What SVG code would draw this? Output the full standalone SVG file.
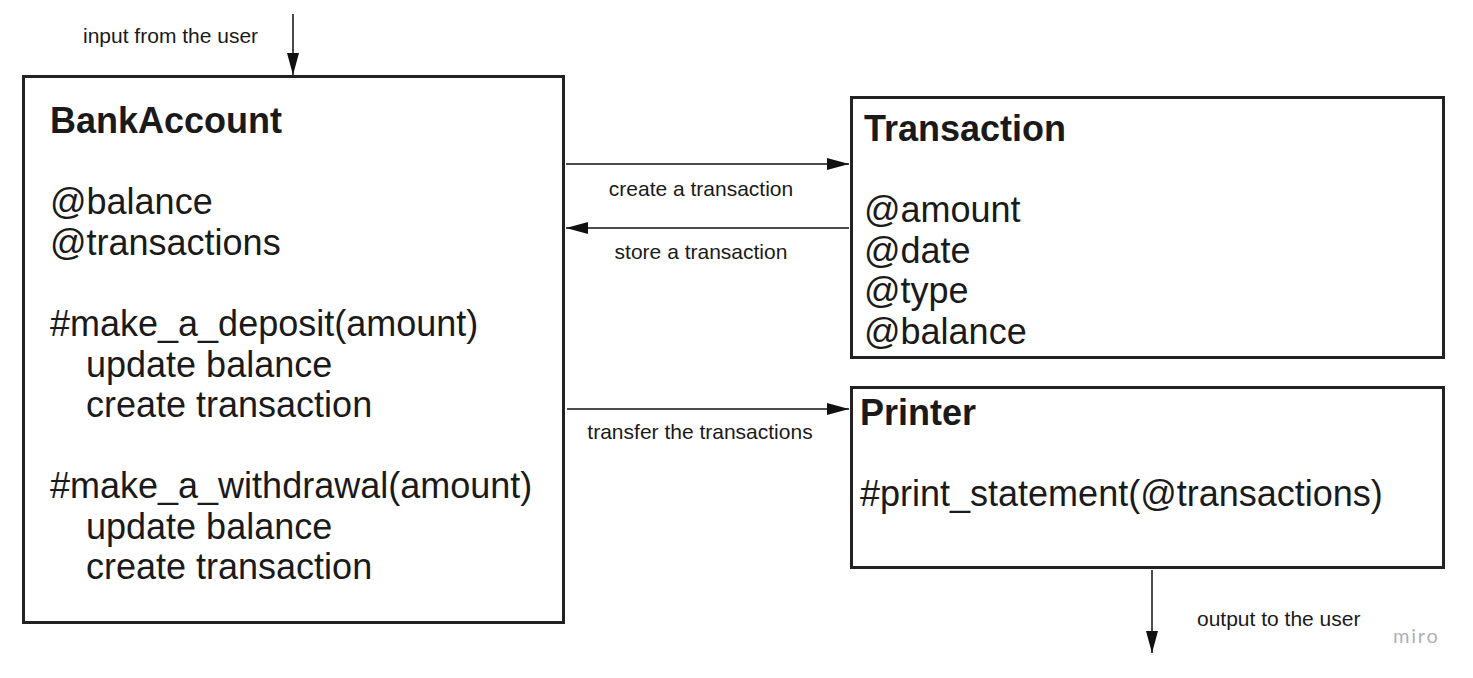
<svg xmlns="http://www.w3.org/2000/svg" width="1473" height="678" viewBox="0 0 1473 678">
<style>
.box{fill:#fff;stroke:#222;stroke-width:3}
.t{font-family:"Liberation Sans",Arial,sans-serif;font-size:36px;fill:#1a1a1a}
.b{font-weight:bold}
.lbl{font-family:"Liberation Sans",Arial,sans-serif;font-size:21px;fill:#1a1a1a}
.c{stroke:#111;stroke-width:1.5;fill:none}
</style>
<defs>
<marker id="ah" markerUnits="userSpaceOnUse" markerWidth="23" markerHeight="12" refX="22" refY="6" orient="auto">
<path d="M0,0 L22,6 L0,12 Z" fill="#111"/>
</marker>
</defs>
<rect width="1473" height="678" fill="#fff"/>
<g id="bankaccount">
<rect class="box" x="23.5" y="76.5" width="540" height="546"/>
<text class="t b" x="50" y="133">BankAccount</text>
<text class="t" x="50" y="214">@balance</text>
<text class="t" x="50" y="254.5">@transactions</text>
<text class="t" x="50" y="336">#make_a_deposit(amount)</text>
<text class="t" x="86" y="376.5">update balance</text>
<text class="t" x="86" y="417">create transaction</text>
<text class="t" x="50" y="498">#make_a_withdrawal(amount)</text>
<text class="t" x="86" y="538.5">update balance</text>
<text class="t" x="86" y="579">create transaction</text>
</g>
<g id="transaction">
<rect class="box" x="851.5" y="97.5" width="592" height="260"/>
<text class="t b" x="864" y="141">Transaction</text>
<text class="t" x="864" y="222">@amount</text>
<text class="t" x="864" y="262.5">@date</text>
<text class="t" x="864" y="303">@type</text>
<text class="t" x="864" y="343.5">@balance</text>
</g>
<g id="printer">
<rect class="box" x="851.5" y="387.5" width="592" height="180"/>
<text class="t b" x="860" y="425">Printer</text>
<text class="t" x="860" y="506">#print_statement(@transactions)</text>
</g>
<g id="connectors">
<line class="c" x1="293" y1="14" x2="293" y2="75" marker-end="url(#ah)"/>
<line class="c" x1="566" y1="164" x2="849" y2="164" marker-end="url(#ah)"/>
<line class="c" x1="849" y1="228" x2="566" y2="228" marker-end="url(#ah)"/>
<line class="c" x1="567" y1="409" x2="849" y2="409" marker-end="url(#ah)"/>
<line class="c" x1="1152" y1="570" x2="1152" y2="653" marker-end="url(#ah)"/>
<text class="lbl" x="83" y="43">input from the user</text>
<text class="lbl" x="701" y="196" text-anchor="middle">create a transaction</text>
<text class="lbl" x="701" y="259" text-anchor="middle">store a transaction</text>
<text class="lbl" x="700" y="439" text-anchor="middle">transfer the transactions</text>
<text class="lbl" x="1197" y="626">output to the user</text>
</g>
<text x="1393" y="643" font-family="Lato,'Open Sans',sans-serif" font-size="20" fill="#b0b0b8" letter-spacing="1.8">miro</text>
</svg>
